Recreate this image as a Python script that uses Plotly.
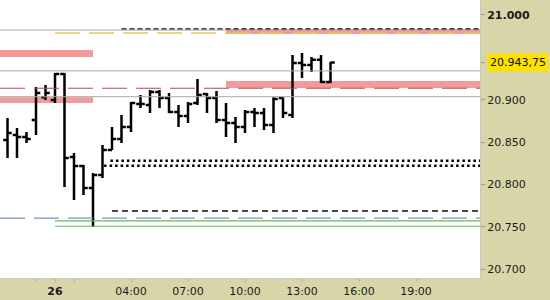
import plotly.graph_objects as go
import pandas as pd

# ---------------- data ----------------
bar_times = pd.date_range("2024-11-25 21:30", periods=35, freq="30min")
opens = [20852.5, 20858.25, 20856, 20876, 20903, 20899.5, 20930.25, 20832.25, 20821.75, 20795.75,
         20811, 20840.5, 20853.5, 20867.75, 20895, 20893.75, 20909, 20902, 20885.5, 20880.75,
         20896, 20906.75, 20902, 20876, 20872.5, 20867.75, 20885.5, 20884.25, 20870, 20902,
         20882, 20943.25, 20941, 20947, 20921]
highs = [20878.25, 20866.5, 20861.75, 20915, 20917.25, 20931.5, 20931.5, 20837, 20822.75, 20813.5,
         20846.5, 20867.75, 20882, 20897.25, 20905.5, 20911.5, 20911.5, 20908, 20893.75, 20897.25,
         20924.5, 20908, 20910.25, 20896, 20879.5, 20887.75, 20890.25, 20890.25, 20903, 20903,
         20952.75, 20955, 20950.5, 20952.75, 20944.5]
lows = [20831, 20831, 20848.75, 20858.25, 20899.5, 20896, 20797, 20781.5, 20787.5, 20749.5,
        20807.5, 20840.5, 20848.75, 20861.75, 20890.25, 20884.25, 20890.25, 20884.25, 20867.75, 20872.5,
        20893.75, 20884.25, 20872.5, 20856, 20848.75, 20860.5, 20867.75, 20864.25, 20860.5, 20878.25,
        20878.25, 20925.5, 20932.75, 20919.75, 20919.75]
closes = [20860.5, 20856, 20853.5, 20908, 20908, 20930.25, 20831, 20821.75, 20795.75, 20811,
          20840.5, 20853.5, 20867.75, 20896, 20895, 20909, 20902, 20885.5, 20880.75, 20895,
          20905.5, 20902, 20876, 20872.5, 20867.75, 20885.5, 20884.25, 20870, 20900.75, 20884.25,
          20943.25, 20941, 20947, 20921, 20943.75]
last_price = 20943.75
last_price_label = "20.943,75"

y_tick_vals = [20700, 20750, 20800, 20850, 20900, 21000]
y_tick_text = ["20.700", "20.750", "20.800", "20.850", "20.900", "<b>21.000</b>"]

x_tick_vals = ["2024-11-25 23:00", "2024-11-26 00:00", "2024-11-26 01:00", "2024-11-26 04:00",
               "2024-11-26 07:00", "2024-11-26 10:00", "2024-11-26 13:00", "2024-11-26 16:00",
               "2024-11-26 19:00"]
x_tick_text = ["", "<b>26</b>", "", "04:00", "07:00", "10:00", "13:00", "16:00", "19:00"]

t_left = "2024-11-25 21:06:19"
t_right = "2024-11-26 22:22:06"

# levels
gray_levels = [20982.25, 20934.0, 20903.5]
red_dash_level = 20913.5
gold_dash_level = 20978.75
gold_dash_start = "2024-11-26 00:00"
black_dash_top_level = 20983.5
black_dash_top_start = "2024-11-26 03:30"
dotted_levels = [20828.0, 20822.0]
dotted_starts = ["2024-11-26 02:55", "2024-11-26 02:35"]
black_dash_low_level = 20768.5
black_dash_low_start = "2024-11-26 03:00"
blue_dash_level = 20760.0
green_levels = [20756.75, 20750.5]
green_start = "2024-11-26 00:00"

# zones (y_top, y_bottom, start, end)
zone_tops = [20958.75, 20903.0, 20983.5, 20922.0]
zone_bottoms = [20950.5, 20896.0, 20977.5, 20913.75]
zone_starts = [t_left, t_left, "2024-11-26 09:00", "2024-11-26 09:00"]
zone_ends = ["2024-11-26 02:00", "2024-11-26 02:00", t_right, t_right]

# ---------------- figure ----------------
fig = go.Figure()

def hline(y, x0, x1, color, width, dash):
    fig.add_trace(go.Scatter(x=[x0, x1], y=[y, y], mode="lines",
                             line=dict(color=color, width=width, dash=dash),
                             hoverinfo="skip", showlegend=False))

for g in gray_levels:
    hline(g, t_left, t_right, "#A8A8A8", 1, "solid")
hline(red_dash_level, t_left, t_right, "#B84848", 1, "25px,9px")
hline(gold_dash_level, gold_dash_start, t_right, "#E8C45A", 1.3, "25px,9px")
hline(black_dash_top_level, black_dash_top_start, t_right, "#111111", 1.2, "5px,3px")
for lv, st in zip(dotted_levels, dotted_starts):
    hline(lv, st, t_right, "#000000", 2.5, "2.5px,3px")
hline(black_dash_low_level, black_dash_low_start, t_right, "#111111", 1.3, "6px,4px")
hline(blue_dash_level, t_left, t_right, "#7896C4", 1.2, "25px,9px")
for gl in green_levels:
    hline(gl, green_start, t_right, "#62B862", 1.2, "solid")

fig.add_trace(go.Ohlc(x=bar_times, open=opens, high=highs, low=lows, close=closes,
                      increasing=dict(line=dict(color="#000000", width=2.5)),
                      decreasing=dict(line=dict(color="#000000", width=2.5)),
                      tickwidth=0.45, showlegend=False, hoverinfo="skip"))

for yt, yb, xs, xe in zip(zone_tops, zone_bottoms, zone_starts, zone_ends):
    fig.add_shape(type="rect", xref="x", yref="y", x0=xs, x1=xe, y0=yb, y1=yt,
                  fillcolor="#F59A9A", line=dict(width=0), layer="below")

fig.add_annotation(xref="paper", yref="y", x=1, y=last_price, xanchor="left", yanchor="middle",
                   xshift=7, text=last_price_label, showarrow=False,
                   bgcolor="#FFE000", borderpad=2,
                   font=dict(family="DejaVu Sans", size=11, color="#111111"))

fig.update_layout(
    width=550, height=300,
    margin=dict(l=0, r=70, t=0, b=22),
    paper_bgcolor="#D8D6A8",
    plot_bgcolor="#FFFFFF",
    font=dict(family="DejaVu Sans", size=11, color="#1a1a1a"),
    showlegend=False,
    xaxis=dict(range=[t_left, t_right], rangeslider=dict(visible=False),
               tickvals=x_tick_vals, ticktext=x_tick_text,
               ticks="outside", ticklen=3, tickcolor="#B5B396",
               showgrid=False, zeroline=False, showline=True, linecolor="#C8C8C8",
               tickfont=dict(size=11, color="#1a1a1a")),
    yaxis=dict(side="right", range=[20689.4, 21017.7],
               tickvals=y_tick_vals + [last_price], ticktext=y_tick_text + [""],
               ticks="outside", ticklen=4, tickcolor="#9A9880",
               showgrid=False, zeroline=False, showline=True, linecolor="#C8C8C8",
               tickfont=dict(size=11, color="#1a1a1a")),
)

fig.write_html("out.html")
